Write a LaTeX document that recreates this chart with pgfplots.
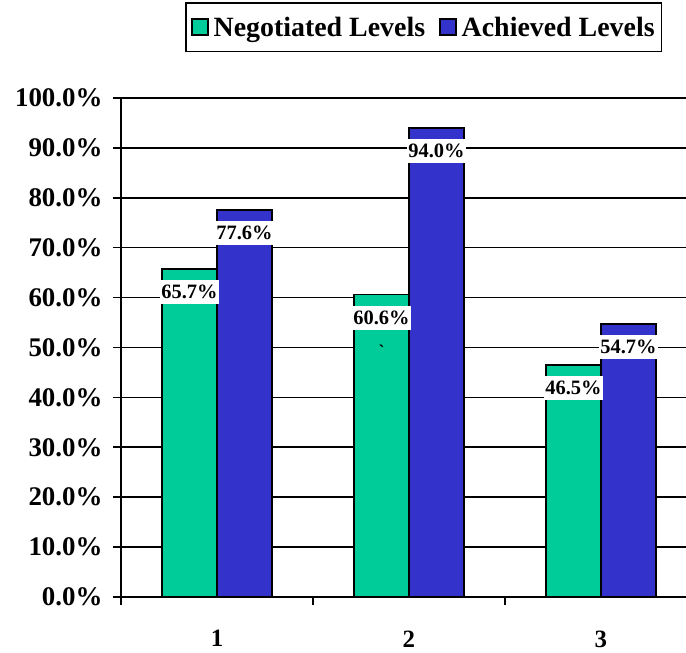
\documentclass[border=0pt]{standalone}
\usepackage{fontspec}
\setmainfont{Liberation Serif}
\usepackage{pgfplots}
\pgfplotsset{compat=1.18}
\definecolor{neg}{RGB}{0,204,153}
\definecolor{ach}{RGB}{51,51,204}
\begin{document}
\begin{tikzpicture}
\begin{axis}[
  name=ax,
  scale only axis,
  width=565bp, height=499bp,
  xmin=0.5, xmax=3.443,
  ymin=0, ymax=100,
  axis x line=bottom, axis y line=left,
  axis line style={line width=1.6bp, -},
  ybar=0pt, bar width=55bp,
  xtick={1,2,3},
  major x tick style={draw=none},
  minor xtick={0.5,1.5,2.5},
  minor tick length=8bp,
  ytick={0,10,...,100},
  major tick length=8bp,
  tick align=outside,
  tick style={line width=1.6bp, black},
  ymajorgrids,
  grid style={line width=1.6bp, black},
  /pgf/number format/assume math mode=true,
  yticklabel={\pgfmathprintnumber[fixed,fixed zerofill,precision=1]{\tick}\%},
  xticklabel style={font=\bfseries\fontsize{25}{25}\selectfont, yshift=-22bp},
  yticklabel style={font=\bfseries\fontsize{27}{27}\selectfont, xshift=-7bp},
  nodes near coords={\pgfmathprintnumber[fixed,fixed zerofill,precision=1]{\pgfplotspointmeta}\%},
  every node near coord/.append style={anchor=center, yshift=-23bp, fill=white, inner xsep=1bp, inner ysep=5bp, font=\bfseries\fontsize{20.5}{20.5}\selectfont, text=black},
  legend style={at={(0.536,1.142)}, anchor=center, legend columns=2, draw=black, line width=1.6bp, font=\bfseries\fontsize{28}{28}\selectfont, inner xsep=5bp, inner ysep=12bp, /tikz/every even column/.append style={column sep=12bp}, /tikz/every odd column/.append style={column sep=3bp}},
  legend image code/.code={\draw[#1, line width=1.6bp] (0bp,-8bp) rectangle (16bp,8bp);},
]
\addplot[fill=neg, draw=black, line width=1.6bp] coordinates {(1,65.7) (2,60.6) (3,46.5)};
\addplot[fill=ach, draw=black, line width=1.6bp] coordinates {(1,77.6) (2,94.0) (3,54.7)};
\legend{Negotiated Levels, Achieved Levels}
\node[font=\bfseries\fontsize{18}{18}\selectfont] at (axis cs:1.857,49.3) {\textasciigrave};
\end{axis}
\pgfresetboundingbox
\path ([shift={(-121bp,-56bp)}]ax.south west) rectangle ([shift={(0bp,98bp)}]ax.north east);
\end{tikzpicture}
\end{document}
